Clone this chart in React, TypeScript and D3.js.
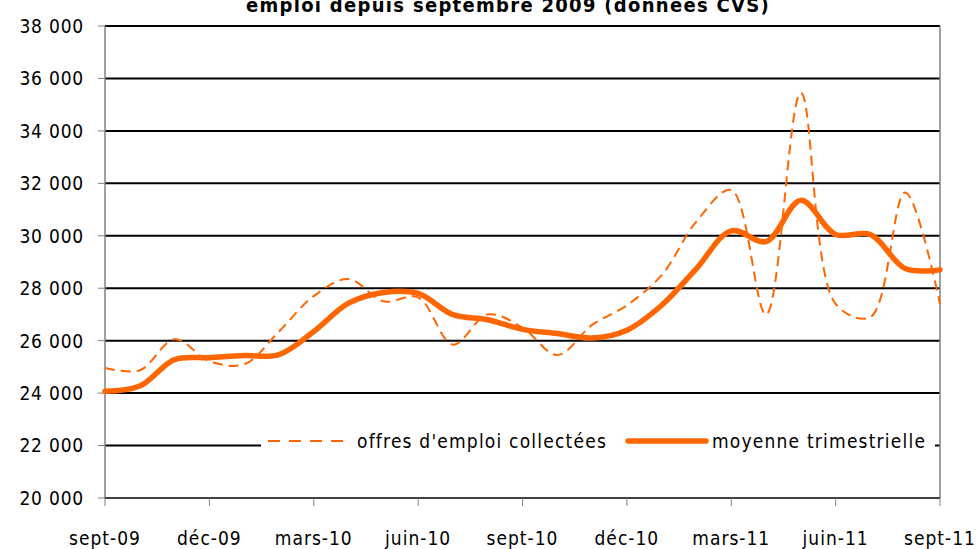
import React from "react";
import * as d3 from "d3";

const months = [
  "sept-09", "oct-09", "nov-09", "déc-09", "janv-10", "févr-10", "mars-10", "avr-10", "mai-10",
  "juin-10", "juil-10", "août-10", "sept-10", "oct-10", "nov-10", "déc-10", "janv-11", "févr-11",
  "mars-11", "avr-11", "mai-11", "juin-11", "juil-11", "août-11", "sept-11",
];
const tickLabels = ["sept-09", "déc-09", "mars-10", "juin-10", "sept-10", "déc-10", "mars-11", "juin-11", "sept-11"];
const offres = [
  24960, 24870, 26050, 25220, 25100, 26350, 27700, 28350, 27500, 27650, 25850, 27000, 26500,
  25450, 26600, 27350, 28500, 30550, 31750, 27000, 35450, 27400, 26900, 31650, 27400,
];
const moyenne = [
  24070, 24270, 25280, 25350, 25430, 25470, 26350, 27430, 27840, 27800, 26990, 26800, 26430,
  26270, 26100, 26400, 27350, 28750, 30190, 29780, 31350, 30050, 30050, 28750, 28700,
];
const yTicks = [20000, 22000, 24000, 26000, 28000, 30000, 32000, 34000, 36000, 38000];
const title = "emploi depuis septembre 2009 (données CVS)";
const legendLabels = ["offres d'emploi collectées", "moyenne trimestrielle"];

const W = 976;
const H = 549;
const left = 105;
const right = 940;
const top = 26;
const bottom = 498;
const orange = "#FF6600";
const font = "'DejaVu Sans Condensed', 'DejaVu Sans', sans-serif";

export default function App() {
  const x = d3.scaleLinear().domain([0, months.length - 1]).range([left, right]);
  const y = d3.scaleLinear().domain([20000, 38000]).range([bottom, top]);
  const line = d3
    .line<number>()
    .x((_, i) => x(i))
    .y((d) => y(d))
    .curve(d3.curveCatmullRom.alpha(0.5));
  const fmt = (v: number) => d3.format(",")(v).replace(",", " ");
  const legendY = 441;

  return (
    <svg
      width={W}
      height={H}
      style={{ position: "absolute", left: 0, top: 0, background: "#fff" }}
      fontFamily={font}
    >
      <rect x={0} y={0} width={W} height={H} fill="#fff" />
      <text x={508} y={12} textAnchor="middle" fontSize={20} fontWeight="bold" letterSpacing={1.3} fill="#000">
        {title}
      </text>
      {yTicks.map((t) => (
        <g key={t}>
          <line x1={left} x2={right} y1={y(t)} y2={y(t)} stroke="#000" strokeWidth={2} />
          <line x1={left - 7} x2={left} y1={y(t)} y2={y(t)} stroke="#808080" strokeWidth={1} />
          <text x={84} y={y(t)} dy="0.36em" textAnchor="end" fontSize={19} letterSpacing={0.8} fill="#000">
            {fmt(t)}
          </text>
        </g>
      ))}
      <line x1={left} x2={left} y1={top} y2={bottom + 1} stroke="#808080" strokeWidth={1.5} />
      <line x1={right} x2={right} y1={top} y2={bottom} stroke="#808080" strokeWidth={1.5} />
      <line x1={left} x2={right} y1={bottom} y2={bottom} stroke="#404040" strokeWidth={2} />
      {tickLabels.map((lab, k) => {
        const xi = x(k * 3);
        return (
          <g key={lab}>
            <line x1={xi} x2={xi} y1={bottom} y2={bottom + 8} stroke="#808080" strokeWidth={1} />
            <text x={xi} y={545} textAnchor="middle" fontSize={19} letterSpacing={1} fill="#000">
              {lab}
            </text>
          </g>
        );
      })}
      <path d={line(offres) || ""} fill="none" stroke={orange} strokeWidth={2} strokeDasharray="10 6" />
      <path
        d={line(moyenne) || ""}
        fill="none"
        stroke={orange}
        strokeWidth={5.5}
        strokeLinejoin="round"
        strokeLinecap="round"
      />
      <g>
        <rect x={261} y={legendY - 14} width={674} height={28} fill="#fff" />
        <line x1={268} x2={352} y1={legendY} y2={legendY} stroke={orange} strokeWidth={2} strokeDasharray="12 9" />
        <text x={357} y={legendY} dy="0.36em" fontSize={19} letterSpacing={1.2} fill="#000">
          {legendLabels[0]}
        </text>
        <line
          x1={628}
          x2={706}
          y1={legendY}
          y2={legendY}
          stroke={orange}
          strokeWidth={5.5}
          strokeLinecap="round"
        />
        <text x={712} y={legendY} dy="0.36em" fontSize={19} letterSpacing={1.2} fill="#000">
          {legendLabels[1]}
        </text>
      </g>
    </svg>
  );
}
